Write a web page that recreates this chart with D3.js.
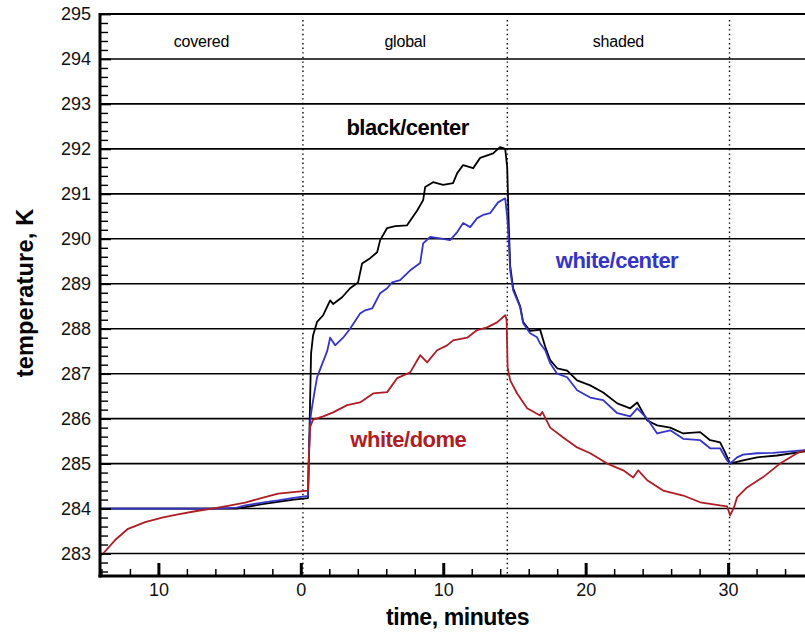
<!DOCTYPE html>
<html>
<head>
<meta charset="utf-8">
<script src="https://cdn.jsdelivr.net/npm/d3@7"></script>
<style>
  html, body { margin: 0; padding: 0; background: #fff; }
  svg { display: block; font-family: "Liberation Sans", Arial, sans-serif; }
</style>
</head>
<body>
<svg id="chart" width="805" height="634"></svg>
<script>
// ---------------- data ----------------
const xTicks = [-10, 0, 10, 20, 30];
const xTickLabels = ["10", "0", "10", "20", "30"];
const yTicks = [283, 284, 285, 286, 287, 288, 289, 290, 291, 292, 293, 294, 295];
const yTickLabels = ["283", "284", "285", "286", "287", "288", "289", "290", "291", "292", "293", "294", "295"];
const phaseBounds = [0.15, 14.5, 30.1];
const phaseNames = ["covered", "global", "shaded"];

const blackTime = [-14.1, -10, -6, -4.5, -3.9, -2.7, -1.6, -0.5, 0.5, 0.6, 0.72, 0.86, 1.14, 1.57, 2.06, 2.27, 2.9, 3.46, 4.02, 4.3, 4.87, 5.36, 5.57, 6.06, 6.63, 7.46, 8.17, 8.59, 8.73, 9.29, 9.99, 10.69, 10.98, 11.4, 12.1, 12.59, 13.5, 13.99, 14.35, 14.49, 14.6, 14.7, 14.91, 15.4, 15.61, 16.1, 16.59, 16.8, 17.16, 17.51, 18.0, 18.7, 19.4, 20.32, 21.23, 22.22, 23.13, 23.62, 24.32, 25.02, 25.94, 26.85, 28.04, 28.74, 29.44, 29.79, 30.14, 31.05, 32.04, 33.44, 35.4];
const blackTemp = [284.0, 284.0, 284.0, 284.0, 284.03, 284.1, 284.15, 284.2, 284.23, 285.6, 287.45, 287.85, 288.15, 288.3, 288.63, 288.55, 288.7, 288.9, 289.03, 289.45, 289.57, 289.7, 289.97, 290.24, 290.28, 290.3, 290.63, 290.86, 291.15, 291.26, 291.2, 291.24, 291.46, 291.64, 291.57, 291.8, 291.9, 292.04, 292.0, 291.6, 290.3, 289.4, 288.9, 288.5, 288.15, 287.95, 287.97, 287.98, 287.6, 287.3, 287.12, 287.07, 286.85, 286.74, 286.58, 286.34, 286.23, 286.36, 285.96, 285.85, 285.8, 285.67, 285.7, 285.52, 285.47, 285.25, 285.0, 285.07, 285.14, 285.18, 285.27];

const blueTime = [-14.1, -10, -6, -4.5, -3.9, -2.7, -1.6, -0.5, 0.5, 0.58, 0.65, 0.72, 0.86, 1.14, 1.36, 1.85, 2.06, 2.41, 2.97, 3.46, 4.16, 4.52, 5.01, 5.57, 6.06, 6.41, 6.97, 7.68, 8.38, 8.59, 9.08, 9.78, 10.48, 10.98, 11.4, 11.89, 12.38, 12.8, 13.29, 13.85, 14.35, 14.49, 14.6, 14.7, 14.91, 15.4, 15.61, 16.1, 16.59, 16.8, 17.16, 17.51, 18.0, 18.7, 19.4, 20.32, 21.23, 22.22, 23.13, 23.62, 24.32, 25.02, 25.94, 26.85, 28.04, 28.74, 29.44, 29.93, 30.14, 30.63, 31.05, 32.04, 33.16, 35.4];
const blueTemp = [284.0, 284.0, 284.0, 284.02, 284.07, 284.13, 284.18, 284.24, 284.28, 285.3, 285.9, 286.12, 286.4, 286.92, 287.1, 287.5, 287.8, 287.63, 287.8, 288.0, 288.34, 288.41, 288.45, 288.79, 288.9, 289.03, 289.08, 289.3, 289.46, 289.9, 290.04, 290.01, 289.97, 290.15, 290.35, 290.26, 290.46, 290.53, 290.57, 290.81, 290.9, 290.5, 289.97, 289.3, 288.85, 288.48, 288.12, 287.9, 287.81, 287.67, 287.52, 287.23, 287.0, 286.92, 286.63, 286.47, 286.41, 286.12, 286.05, 286.23, 286.0, 285.67, 285.74, 285.55, 285.52, 285.34, 285.34, 285.07, 285.0, 285.14, 285.2, 285.23, 285.24, 285.3];

const redTime = [-14.1, -13.88, -13.04, -12.13, -10.93, -9.74, -8.62, -7.42, -6.23, -5.11, -3.91, -2.72, -1.59, 0.51, 0.55, 0.65, 0.86, 1.57, 2.27, 3.25, 4.16, 5.08, 6.06, 6.76, 7.68, 8.38, 8.87, 9.57, 10.27, 10.69, 11.68, 12.38, 13.08, 13.78, 14.35, 14.45, 14.52, 14.7, 15.19, 15.89, 16.8, 16.95, 17.51, 18.42, 19.4, 20.32, 21.51, 22.64, 23.34, 23.69, 24.32, 25.44, 26.85, 28.04, 29.44, 29.93, 30.14, 30.42, 30.63, 31.33, 32.46, 33.65, 34.84, 35.4];
const redTemp = [282.95, 283.0, 283.3, 283.55, 283.7, 283.8, 283.87, 283.94, 284.0, 284.06, 284.13, 284.24, 284.33, 284.4, 285.0, 285.81, 285.98, 286.05, 286.14, 286.3, 286.36, 286.56, 286.59, 286.9, 287.03, 287.41, 287.25, 287.52, 287.63, 287.74, 287.8, 287.97, 288.03, 288.14, 288.3, 288.2, 287.14, 286.85, 286.56, 286.23, 286.07, 286.15, 285.8, 285.58, 285.36, 285.23, 285.0, 284.85, 284.69, 284.85, 284.63, 284.4, 284.29, 284.14, 284.07, 284.05, 283.85, 284.03, 284.25, 284.47, 284.7, 285.0, 285.23, 285.3];

const seriesNames = ["black/center", "white/center", "white/dome"];
const seriesColors = ["#000000", "#3434c8", "#b01c24"];
const labelTime = [7.5, 22.2, 7.55];
const labelTemp = [292.3, 289.35, 285.36];

// ---------------- layout ----------------
const svg = d3.select("#chart");
const mLeft = 100, mRight = 805, mTop = 14, mBottom = 576;
const x = d3.scaleLinear().domain([-14.1, 35.4]).range([mLeft, mRight]);
const y = d3.scaleLinear().domain([282.5, 295]).range([mBottom, mTop]);

// horizontal grid lines
svg.append("g").selectAll("line")
  .data(yTicks.slice(0, -1))
  .join("line")
  .attr("x1", mLeft).attr("x2", mRight + 5)
  .attr("y1", d => y(d)).attr("y2", d => y(d))
  .attr("stroke", "#000").attr("stroke-width", 1.6);

// top border
svg.append("line")
  .attr("x1", mLeft).attr("x2", mRight + 5)
  .attr("y1", y(295)).attr("y2", y(295))
  .attr("stroke", "#000").attr("stroke-width", 2.2);

// phase dividers (dotted)
svg.append("g").selectAll("line")
  .data(phaseBounds)
  .join("line")
  .attr("x1", d => x(d)).attr("x2", d => x(d))
  .attr("y1", mTop + 6).attr("y2", mBottom - 2)
  .attr("stroke", "#000").attr("stroke-width", 1.4)
  .attr("stroke-dasharray", "1.4,3.2");

// phase labels
const phaseEdges = [x.domain()[0]].concat(phaseBounds);
svg.append("g").selectAll("text")
  .data(phaseNames)
  .join("text")
  .attr("x", (d, i) => x((phaseEdges[i] + phaseEdges[i + 1]) / 2))
  .attr("y", 47)
  .attr("text-anchor", "middle")
  .attr("font-size", 16)
  .attr("letter-spacing", -0.2)
  .attr("fill", "#000")
  .text(d => d);

// series lines
const series = [
  {t: blackTime, v: blackTemp},
  {t: blueTime, v: blueTemp},
  {t: redTime, v: redTemp}
];
const line = d3.line().x(d => x(d[0])).y(d => y(d[1]));
series.forEach((s, i) => {
  const pts = s.t.map((t, j) => [t, s.v[j]]);
  svg.append("path")
    .datum(pts)
    .attr("fill", "none")
    .attr("stroke", seriesColors[i])
    .attr("stroke-width", 1.8)
    .attr("stroke-linejoin", "round")
    .attr("d", line);
});

// series labels
svg.append("g").selectAll("text")
  .data(seriesNames)
  .join("text")
  .attr("x", (d, i) => x(labelTime[i]))
  .attr("y", (d, i) => y(labelTemp[i]))
  .attr("text-anchor", "middle")
  .attr("font-size", 22)
  .attr("font-weight", "bold")
  .attr("letter-spacing", -0.5)
  .attr("fill", (d, i) => seriesColors[i])
  .text(d => d);

// Y axis: minor ticks
const yMinor = d3.range(282.6, 295.0, 0.2).filter(v => Math.abs(v - Math.round(v)) > 0.01);
svg.append("g")
  .attr("transform", `translate(${mLeft},0)`)
  .call(d3.axisLeft(y).tickValues(yMinor).tickSize(-8).tickFormat(""))
  .call(g => g.select(".domain").remove())
  .call(g => g.selectAll("line").attr("stroke-width", 1.4));

// Y axis: major ticks + labels
svg.append("g")
  .attr("transform", `translate(${mLeft},0)`)
  .call(d3.axisLeft(y).tickValues(yTicks).tickSize(-11).tickPadding(9)
    .tickFormat((d, i) => yTickLabels[i]))
  .call(g => g.select(".domain").remove())
  .call(g => g.selectAll("line").attr("stroke-width", 1.8))
  .call(g => g.selectAll("text")
    .attr("font-size", 18)
    .attr("font-family", "'Liberation Sans', Arial, sans-serif")
    .attr("fill", "#111"));

// X axis: minor ticks
const xMinor = d3.range(-14, 36, 2).filter(v => v % 10 !== 0);
svg.append("g")
  .attr("transform", `translate(0,${mBottom})`)
  .call(d3.axisBottom(x).tickValues(xMinor).tickSize(-7).tickFormat(""))
  .call(g => g.select(".domain").remove())
  .call(g => g.selectAll("line").attr("stroke-width", 1.5));

// X axis: major ticks + labels
svg.append("g")
  .attr("transform", `translate(0,${mBottom})`)
  .call(d3.axisBottom(x).tickValues(xTicks).tickSize(-13).tickPadding(7)
    .tickFormat((d, i) => xTickLabels[i]))
  .call(g => g.select(".domain").remove())
  .call(g => g.selectAll("line").attr("stroke-width", 3))
  .call(g => g.selectAll("text")
    .attr("font-size", 18)
    .attr("font-family", "'Liberation Sans', Arial, sans-serif")
    .attr("fill", "#111"));

// axis lines (thick)
svg.append("line")
  .attr("x1", mLeft).attr("x2", mLeft)
  .attr("y1", mTop - 1).attr("y2", mBottom + 1.5)
  .attr("stroke", "#000").attr("stroke-width", 3);
svg.append("line")
  .attr("x1", mLeft - 1.5).attr("x2", mRight + 5)
  .attr("y1", mBottom).attr("y2", mBottom)
  .attr("stroke", "#000").attr("stroke-width", 3);

// axis titles
svg.append("text")
  .attr("x", (mLeft + mRight) / 2 + 5)
  .attr("y", 625)
  .attr("text-anchor", "middle")
  .attr("font-size", 23)
  .attr("font-weight", "bold")
  .attr("letter-spacing", -0.4)
  .text("time, minutes");

svg.append("text")
  .attr("transform", "translate(33,293) rotate(-90)")
  .attr("text-anchor", "middle")
  .attr("font-size", 23.5)
  .attr("font-weight", "bold")
  .attr("letter-spacing", 0.2)
  .text("temperature, K");
</script>
</body>
</html>
